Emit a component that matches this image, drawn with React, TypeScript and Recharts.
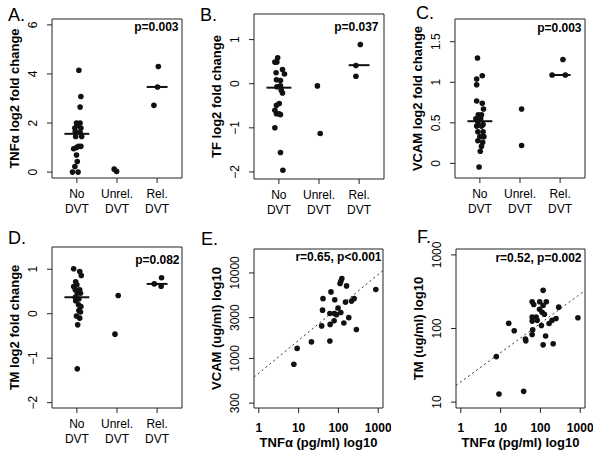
import React from "react";
import {
  ScatterChart, Scatter, XAxis, YAxis, ReferenceLine, ReferenceArea,
} from "recharts";

const FONT = "Arial, 'Liberation Sans', Helvetica, sans-serif";
const INK = "#111";

// group labels on the dot plots (two lines each)
const groups = [["No", "DVT"], ["Unrel.", "DVT"], ["Rel.", "DVT"]];
const catTicks = [1, 2, 3];
const catDomain = [0.38, 3.62];
const medianHalf = [0.31, 0, 0.26];

// A. TNFa log2 fold change  [jitter, value]
const tnfNo = [
  [0.05, 4.15], [0.1, 3.08], [0.08, 2.65], [-0.01, 2.0], [0.08, 2.0], [-0.05, 1.8],
  [0.1, 1.8], [0.01, 1.9], [-0.04, 1.65], [0.08, 1.62], [0.12, 1.45], [-0.03, 1.45],
  [0.04, 1.05], [0.1, 1.05], [-0.01, 1.0], [-0.08, 0.95], [-0.01, 0.7], [0.01, 0.43],
  [-0.05, 0.23], [-0.11, 0.0], [0.03, 0.0],
];
const tnfUnrel = [[-0.07, 0.12], [-0.01, 0.03]];
const tnfRel = [[0.03, 4.3], [0.01, 3.47], [-0.08, 2.72]];
const tnfMedian = [1.56, null, 3.47];

// B. TF log2 fold change
const tfNo = [
  [-0.03, 0.59], [-0.1, 0.49], [-0.05, 0.49], [0.09, 0.32], [-0.07, 0.25], [0.14, 0.22],
  [-0.06, 0.09], [0.04, 0.07], [0.04, -0.05], [-0.05, -0.07], [0.06, -0.15], [0.09, -0.21],
  [0.01, -0.45], [-0.06, -0.49], [-0.1, -0.6], [0.0, -0.68], [-0.06, -0.68], [0.04, -0.7],
  [-0.1, -1.0], [0.04, -1.56], [0.1, -1.96],
];
const tfUnrel = [[-0.04, -0.05], [0.03, -1.13]];
const tfRel = [[0.03, 0.89], [-0.08, 0.41], [-0.08, 0.17]];
const tfMedian = [-0.09, null, 0.42];

// C. VCAM log2 fold change
const vcamNo = [
  [-0.06, 1.3], [0.06, 1.08], [-0.08, 1.04], [-0.08, 0.97], [-0.08, 0.77], [0.06, 0.74],
  [0.09, 0.67], [-0.04, 0.6], [0.04, 0.6], [-0.1, 0.55], [0.02, 0.55], [-0.05, 0.51],
  [0.08, 0.48], [-0.08, 0.46], [0.04, 0.46], [-0.05, 0.39], [0.08, 0.39], [0.0, 0.33],
  [0.1, 0.33], [-0.05, 0.28], [0.07, 0.26], [0.04, 0.21], [0.01, 0.15], [-0.02, -0.045],
];
const vcamUnrel = [[0.04, 0.67], [0.04, 0.22]];
const vcamRel = [[0.07, 1.28], [-0.2, 1.09], [0.13, 1.09]];
const vcamMedian = [0.52, null, 1.09];

// D. TM log2 fold change
const tmNo = [
  [-0.08, 1.01], [0.07, 0.95], [0.11, 0.86], [-0.03, 0.72], [0.0, 0.65], [-0.08, 0.61],
  [0.07, 0.54], [-0.04, 0.54], [0.01, 0.46], [0.09, 0.46], [-0.04, 0.37], [0.05, 0.33],
  [-0.03, 0.29], [0.04, 0.2], [0.1, 0.16], [0.05, 0.07], [0.09, 0.04], [-0.01, -0.05],
  [0.07, -0.1], [0.02, -0.25], [0.01, -1.24],
];
const tmUnrel = [[0.03, 0.41], [-0.05, -0.46]];
const tmRel = [[0.11, 0.81], [-0.07, 0.67], [0.1, 0.62]];
const tmMedian = [0.37, null, 0.67];

// E. TNFa (pg/ml) vs VCAM (ug/ml)
const eTnf = [7.6, 9.2, 21, 61, 38, 62, 78, 137, 283, 182, 61, 79, 89, 115, 98, 40, 41, 81, 65, 151, 213, 248, 160, 110, 122, 115, 870];
const eVcam = [855, 1310, 1560, 1600, 2400, 2500, 2750, 2600, 2180, 3000, 3360, 3360, 3250, 3440, 3890, 3670, 5000, 4850, 6000, 4560, 4680, 5000, 7050, 7520, 8600, 8000, 6400];
const eFit = { a: 2.827, b: 0.385 }; // log10(VCAM) = a + b*log10(TNF)

// F. TNFa (pg/ml) vs TM (ug/ml)
const fTnf = [7.8, 9.1, 38, 16, 22, 42, 43, 62, 64, 62, 62, 78, 83, 62, 68, 96, 95, 110, 117, 117, 141, 106, 126, 135, 165, 196, 247, 288, 209, 117, 875];
const fTm = [41.5, 12.9, 14, 118, 93, 72, 68, 83, 96, 126, 143, 143, 129, 231, 212, 231, 182, 166, 205, 330, 231, 110, 156, 79, 117, 129, 137, 195, 62, 60, 140];
const fFit = { a: 1.274, b: 0.398 };

const logTicks = [1, 10, 100, 1000];
const logX = [Math.pow(10, -0.12), Math.pow(10, 3.12)];

function dotData(no, unrel, rel) {
  return [no, unrel, rel].flatMap((g, i) => g.map(([j, v]) => ({ x: i + 1 + j, y: v })));
}

function fitLine(fit, dom) {
  return dom.map((x) => ({ x, y: Math.pow(10, fit.a + fit.b * Math.log10(x)) }));
}

const fmtNum = (v) => (v < 0 ? "\u2212" + Math.abs(v) : String(v));

const Dot = (p) => <circle cx={p.cx} cy={p.cy} r={2.8} fill={INK} />;

function Panel({
  box, top, letter, letterAt, yTitle, xTitle, stat, statAt,
  xDomain, yDomain, xTicks, yTicks, log, points, medians, fit,
}) {
  const YW = 60, RM = 8, XH = 50;
  const left = box[0] - YW;
  const mt = box[1] - top;
  const width = box[2] - left + RM;
  const height = box[3] - top + XH;
  const px0 = YW, px1 = box[2] - left, py0 = mt, py1 = box[3] - top;

  const yTick = ({ y, payload }) => {
    const cx = px0 - 19;
    return (
      <text x={cx} y={y} dy="0.35em" textAnchor="middle" fontSize={12} fill="#000"
        transform={`rotate(-90 ${cx} ${y})`}>
        {fmtNum(payload.value)}
      </text>
    );
  };

  const xTick = ({ x, payload }) =>
    log ? (
      <text x={x} y={py1 + 24} textAnchor="middle" fontSize={12} fontWeight="bold" fill="#000">
        {payload.value}
      </text>
    ) : (
      <g>
        <text x={x} y={py1 + 20} textAnchor="middle" fontSize={12} fill="#000">{groups[payload.value - 1][0]}</text>
        <text x={x} y={py1 + 35} textAnchor="middle" fontSize={12} fill="#000">{groups[payload.value - 1][1]}</text>
      </g>
    );

  const Extras = () => {
    const tx = px0 - 38, ty = (py0 + py1) / 2;
    return (
      <g fill="#000">
        <text x={letterAt[0] - left} y={letterAt[1] - top} fontSize={18}>{letter}</text>
        <text x={tx} y={ty} dy="0.35em" textAnchor="middle" fontSize={13} fontWeight="bold"
          transform={`rotate(-90 ${tx} ${ty})`}>{yTitle}</text>
        <text x={statAt[0] - left} y={statAt[1] - top} textAnchor="end" fontSize={12} fontWeight="bold">{stat}</text>
        {xTitle && (
          <text x={(px0 + px1) / 2} y={py1 + 39} textAnchor="middle" fontSize={13} fontWeight="bold">{xTitle}</text>
        )}
      </g>
    );
  };

  return (
    <div style={{ position: "absolute", left, top, width, height }}>
      <ScatterChart width={width} height={height} margin={{ top: mt, right: RM, bottom: 0, left: 0 }}>
        <XAxis type="number" dataKey="x" domain={xDomain} ticks={xTicks} interval={0}
          scale={log ? "log" : "linear"} allowDataOverflow axisLine={false}
          tickLine={{ stroke: "#222" }} tickSize={5} height={XH} tick={xTick} />
        <YAxis type="number" dataKey="y" domain={yDomain} ticks={yTicks} interval={0}
          scale={log ? "log" : "linear"} allowDataOverflow axisLine={false}
          tickLine={{ stroke: "#222" }} tickSize={5} width={YW} tick={yTick}
          label={<Extras />} />
        <ReferenceArea x1={xDomain[0]} x2={xDomain[1]} y1={yDomain[0]} y2={yDomain[1]}
          fill="none" stroke="#222" strokeWidth={1} ifOverflow="visible" />
        {medians && medians.map((m, i) =>
          m === null ? null : (
            <ReferenceLine key={i} ifOverflow="visible"
              segment={[{ x: i + 1 - medianHalf[i], y: m }, { x: i + 1 + medianHalf[i], y: m }]}
              stroke={INK} strokeWidth={2} />
          ))}
        {fit && (
          <ReferenceLine ifOverflow="visible" segment={fitLine(fit, xDomain)}
            stroke="#333" strokeWidth={1} strokeDasharray="2 3" />
        )}
        <Scatter data={points} dataKey="y" shape={Dot} isAnimationActive={false} />
      </ScatterChart>
    </div>
  );
}

export default function App() {
  return (
    <div style={{ position: "absolute", left: 0, top: 0, width: 601, height: 458, background: "#fff", fontFamily: FONT }}>
      <Panel box={[52, 19, 182, 178]} top={0} letter="A." letterAt={[8, 21]}
        yTitle="TNFα log2 fold change" stat="p=0.003" statAt={[178.5, 31]}
        xDomain={catDomain} yDomain={[-0.24, 6.24]} xTicks={catTicks} yTicks={[0, 2, 4, 6]}
        points={dotData(tnfNo, tnfUnrel, tnfRel)} medians={tnfMedian} />
      <Panel box={[254, 14, 384, 179]} top={0} letter="B." letterAt={[200, 21]}
        yTitle="TF log2 fold change" stat="p=0.037" statAt={[378.5, 31]}
        xDomain={catDomain} yDomain={[-2.16, 1.58]} xTicks={catTicks} yTicks={[-2, -1, 0, 1]}
        points={dotData(tfNo, tfUnrel, tfRel)} medians={tfMedian} />
      <Panel box={[455, 19, 585, 178]} top={0} letter="C." letterAt={[416, 19]}
        yTitle="VCAM log2 fold change" stat="p=0.003" statAt={[581.5, 31.5]}
        xDomain={catDomain} yDomain={[-0.18, 1.78]} xTicks={catTicks} yTicks={[0, 0.5, 1, 1.5]}
        points={dotData(vcamNo, vcamUnrel, vcamRel)} medians={vcamMedian} />
      <Panel box={[52, 247, 182, 408]} top={225} letter="D." letterAt={[8, 244]}
        yTitle="TM log2 fold change" stat="p=0.082" statAt={[179.5, 263.5]}
        xDomain={catDomain} yDomain={[-2.12, 1.5]} xTicks={catTicks} yTicks={[-2, -1, 0, 1]}
        points={dotData(tmNo, tmUnrel, tmRel)} medians={tmMedian} />
      <Panel box={[254, 249, 383, 408]} top={225} letter="E." letterAt={[201, 245]}
        yTitle="VCAM (ug/ml) log10" xTitle="TNFα (pg/ml) log10" stat="r=0.65, p<0.001" statAt={[381.5, 260.5]}
        xDomain={logX} yDomain={[Math.pow(10, 2.42), Math.pow(10, 4.28)]} xTicks={logTicks}
        yTicks={[300, 1000, 3000, 10000]} log
        points={eTnf.map((x, i) => ({ x, y: eVcam[i] }))} fit={eFit} />
      <Panel box={[456, 249, 585, 408]} top={225} letter="F." letterAt={[417, 243]}
        yTitle="TM (ug/ml) log10" xTitle="TNFα (pg/ml) log10" stat="r=0.52, p=0.002" statAt={[581.5, 261.5]}
        xDomain={logX} yDomain={[Math.pow(10, 0.92), Math.pow(10, 3.08)]} xTicks={logTicks}
        yTicks={[10, 100, 1000]} log
        points={fTnf.map((x, i) => ({ x, y: fTm[i] }))} fit={fFit} />
    </div>
  );
}
